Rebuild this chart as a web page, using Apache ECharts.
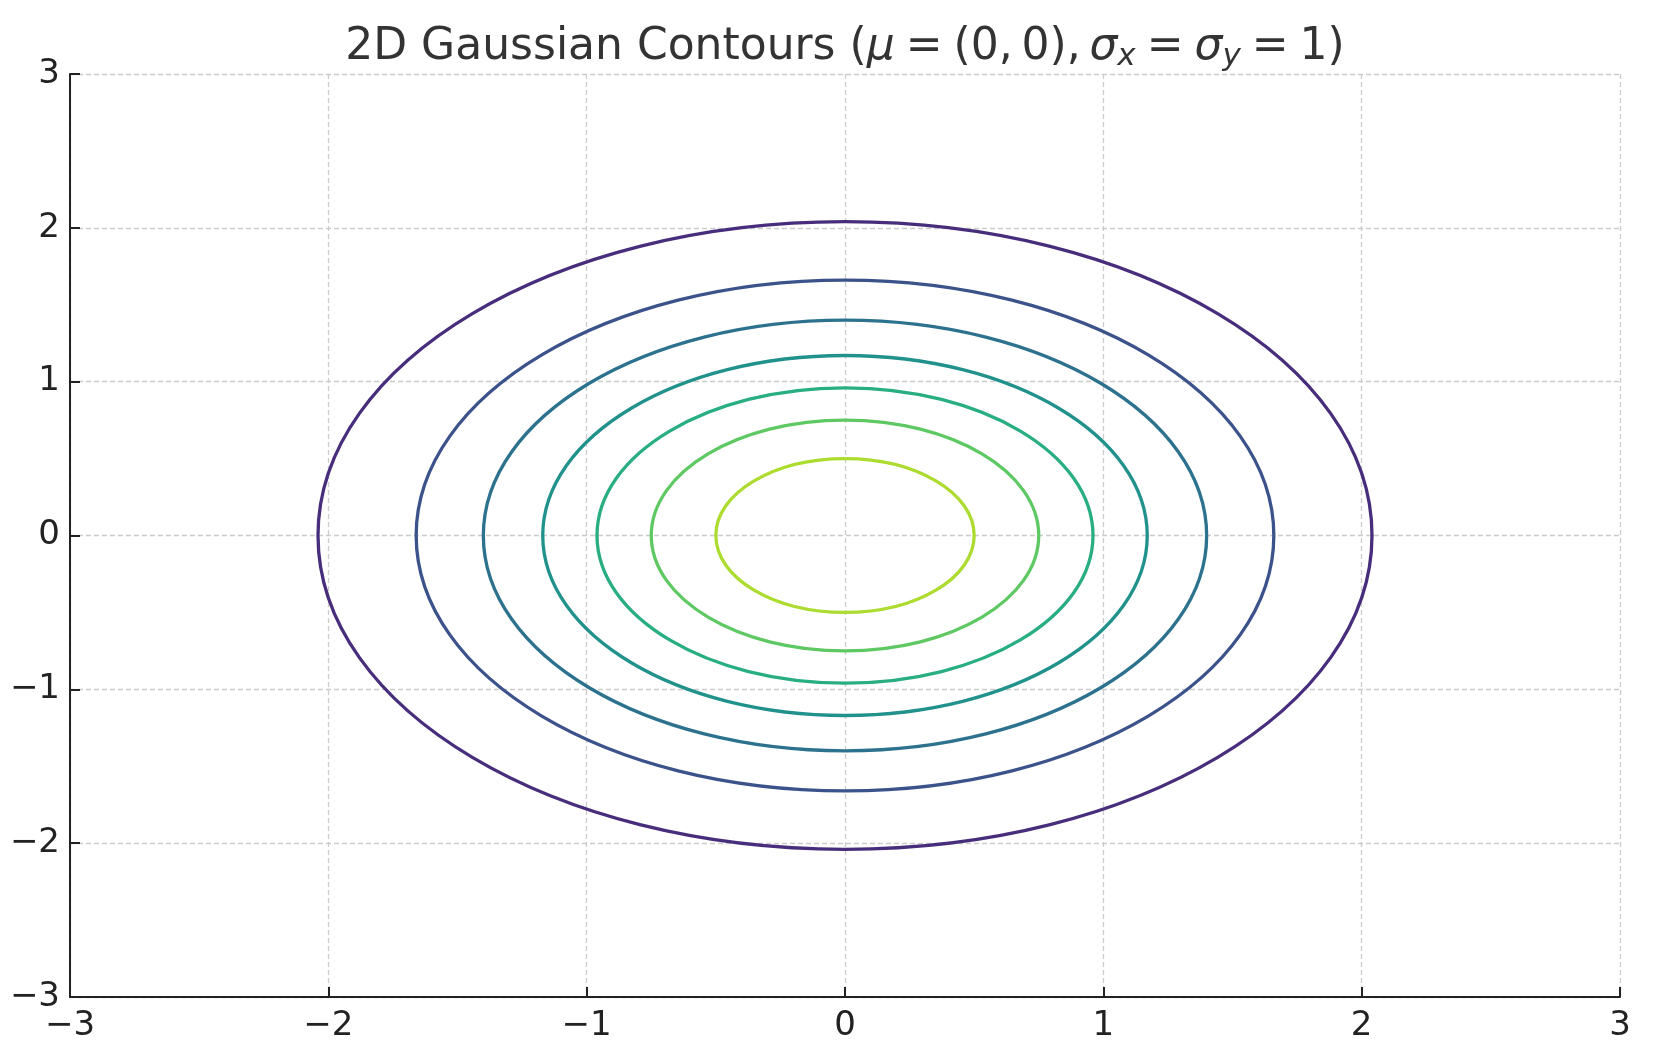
<!DOCTYPE html>
<html>
<head>
<meta charset="utf-8">
<script src="https://cdn.jsdelivr.net/npm/echarts@6/dist/echarts.min.js"></script>
<style>
html,body{margin:0;padding:0;background:#fff;}
#chart{width:1660px;height:1057px;}
</style>
</head>
<body>
<div id="chart"></div>
<script>
// Contour levels (density values) and their radii
const levels = [0.02, 0.04, 0.06, 0.08, 0.10, 0.12, 0.14];
const radii = [2.04, 1.66, 1.40, 1.17, 0.96, 0.75, 0.50];
const levelColors = ['#472d7b', '#3b528b', '#2c728e', '#21918c', '#28ae80', '#5ec962', '#addc30'];
const center = [0, 0];
const xTicks = [-3, -2, -1, 0, 1, 2, 3];
const yTicks = [-3, -2, -1, 0, 1, 2, 3];
const tickLabels = {'-3': '−3', '-2': '−2', '-1': '−1', '0': '0', '1': '1', '2': '2', '3': '3'};

const FONT = 'DejaVu Sans';
const chart = echarts.init(document.getElementById('chart'));

const seriesData = levels.map((lv, i) => ({
  value: [center[0], center[1], radii[i], lv],
  itemStyle: {color: levelColors[i]}
}));

const axisCommon = {
  type: 'value', min: -3, max: 3, interval: 1,
  axisLine: {show: true, onZero: false, lineStyle: {color: '#222', width: 2}},
  axisTick: {show: true, inside: true, length: 10, lineStyle: {color: '#222', width: 2}},
  splitLine: {show: true, lineStyle: {color: '#cccccc', width: 1.3, type: [5, 3]}},
  axisLabel: {fontFamily: FONT, fontSize: 34, color: '#222',
    formatter: v => tickLabels[String(v)] || String(v)}
};

const TS = '\u2009';
const MS = '\u2005';
const EQ = MS + '=' + MS;
chart.setOption({
  animation: false,
  backgroundColor: '#fff',
  title: {
    left: 840, top: 18, textAlign: 'center',
    text: '2D Gaussian Contours ({i|μ}{n|' + EQ + '(0,' + TS + '0),' + TS + '}{i|σ}{s|x}{n|' + EQ + '}{i|σ}{s|y}{n|' + EQ + '1)}',
    textStyle: {
      fontFamily: FONT, fontSize: 44, color: '#333', fontWeight: 'normal',
      rich: {
        n: {fontFamily: FONT, fontSize: 44, color: '#333'},
        i: {fontFamily: FONT, fontSize: 44, color: '#333', fontStyle: 'italic'},
        s: {fontFamily: FONT, fontSize: 31, color: '#333', fontStyle: 'italic', padding: [18, 0, 0, 0]}
      }
    }
  },
  grid: {left: 70, right: 40, top: 74, bottom: 60, containLabel: false},
  xAxis: Object.assign({}, axisCommon, {axisLabel: Object.assign({}, axisCommon.axisLabel, {margin: 12})}),
  yAxis: Object.assign({}, axisCommon, {axisLabel: Object.assign({}, axisCommon.axisLabel, {margin: 10})}),
  series: [{
    type: 'custom',
    coordinateSystem: 'cartesian2d',
    encode: {x: 0, y: 1},
    clip: false,
    data: seriesData,
    renderItem: function (params, api) {
      const c = api.coord([api.value(0), api.value(1)]);
      const r = api.value(2);
      const sz = api.size([r, r]);
      return {
        type: 'ellipse',
        shape: {cx: c[0], cy: c[1], rx: sz[0], ry: sz[1]},
        style: {fill: 'none', stroke: api.visual('color'), lineWidth: 3.3}
      };
    }
  }]
});
</script>
</body>
</html>
